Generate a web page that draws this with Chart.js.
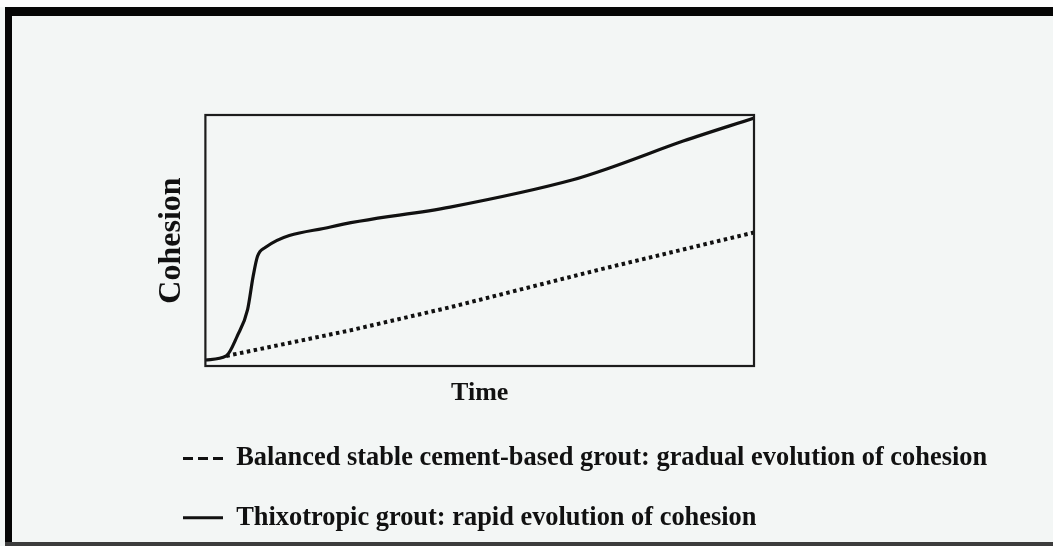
<!DOCTYPE html>
<html>
<head>
<meta charset="utf-8">
<script src="https://cdn.jsdelivr.net/npm/chart.js@4/dist/chart.umd.min.js"></script>
<style>
  html, body { margin: 0; padding: 0; }
  body { width: 1053px; height: 546px; background: #f3f6f5; position: relative; overflow: hidden; }
  .deco { position: absolute; }
  #wrap { position: absolute; left: 0; top: 0; width: 1053px; height: 546px; }
</style>
</head>
<body>
<div class="deco" style="left:0;top:0;width:1053px;height:7px;background:#fcfcfc;"></div>
<div class="deco" style="left:5px;top:7px;width:1048px;height:9px;background:#050505;"></div>
<div class="deco" style="left:5px;top:7px;width:7px;height:539px;background:#050505;"></div>
<div class="deco" style="left:5px;top:542px;width:1048px;height:4px;background:#3c3c3c;"></div>
<div id="wrap"><canvas id="c"></canvas></div>
<script>
// Time (0-100, arbitrary units) and cohesion (0-100, arbitrary units)
const thixoTime     = [0, 3.8, 5.8, 7.7, 8.7, 9.5, 10.9, 22.8, 44.6, 67.0, 73.8, 87.1, 100];
const thixoCohesion = [2.4, 4.0, 11.9, 22.6, 35.7, 43.7, 47.2, 55.4, 63.3, 74.2, 79.0, 89.6, 98.8];
const balancedTime     = [3.8, 26.4, 44.6, 72.0, 100];
const balancedCohesion = [4.0, 14.2, 23.4, 38.5, 53.2];
const seriesLabels = [
  'Balanced stable cement-based grout: gradual evolution of cohesion',
  'Thixotropic grout: rapid evolution of cohesion'
];
const xTitle = 'Time';
const yTitle = 'Cohesion';

const ink = '#111111';
Chart.defaults.font.family = '"Liberation Serif", "Times New Roman", serif';
Chart.defaults.color = ink;

const frame = {
  id: 'frame',
  afterDatasetsDraw(chart) {
    const {ctx, chartArea: a} = chart;
    ctx.save();
    ctx.strokeStyle = '#1c1c1c';
    ctx.lineWidth = 2.2;
    ctx.strokeRect(a.left, a.top, a.right - a.left, a.bottom - a.top);
    ctx.restore();
  }
};

new Chart(document.getElementById('c'), {
  type: 'line',
  data: {
    datasets: [
      {
        label: seriesLabels[0],
        data: balancedTime.map((t, i) => ({x: t, y: balancedCohesion[i]})),
        borderColor: ink,
        borderWidth: 4,
        borderDash: [3.5, 3.5],
        pointRadius: 0,
        fill: false,
        tension: 0
      },
      {
        label: seriesLabels[1],
        data: thixoTime.map((t, i) => ({x: t, y: thixoCohesion[i]})),
        borderColor: ink,
        borderWidth: 3.2,
        pointRadius: 0,
        fill: false,
        cubicInterpolationMode: 'monotone'
      }
    ]
  },
  options: {
    responsive: true,
    maintainAspectRatio: false,
    animation: false,
    layout: { padding: { left: 150, right: 10, top: 115, bottom: 5 } },
    scales: {
      x: {
        type: 'linear', min: 0, max: 100,
        ticks: { display: false },
        grid: { display: false, drawTicks: false },
        border: { display: false },
        title: { display: true, text: xTitle, color: ink,
                 font: { size: 26, weight: 'bold' }, padding: { top: 12, bottom: 3 } }
      },
      y: {
        type: 'linear', min: 0, max: 100,
        ticks: { display: false },
        grid: { display: false, drawTicks: false },
        border: { display: false },
        title: { display: true, text: yTitle, color: ink,
                 font: { size: 32, weight: 'bold' }, padding: { top: 3, bottom: 14 } }
      },
      yRight: {
        type: 'linear', position: 'right', min: 0, max: 100,
        ticks: { display: false },
        grid: { display: false, drawTicks: false },
        border: { display: false },
        afterFit(scale) { scale.width = 289; }
      }
    },
    plugins: {
      tooltip: { enabled: false },
      legend: {
        position: 'bottom',
        align: 'start',
        labels: {
          color: ink,
          font: { size: 26.4, weight: 'bold' },
          padding: 33,
          usePointStyle: true,
          pointStyle: 'line',
          pointStyleWidth: 40,
          generateLabels(chart) {
            const items = Chart.defaults.plugins.legend.labels.generateLabels(chart);
            items.forEach(it => {
              it.pointStyle = 'line';
              it.lineWidth = 3;
              it.strokeStyle = ink;
              if (it.datasetIndex === 0) it.lineDash = [10, 5];
            });
            return items;
          }
        }
      }
    }
  },
  plugins: [frame]
});
</script>
</body>
</html>
